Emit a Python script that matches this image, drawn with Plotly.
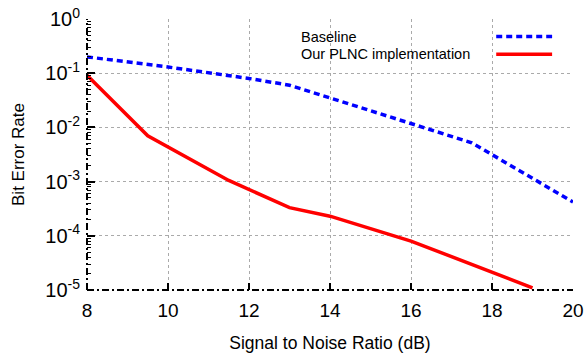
import plotly.graph_objects as go

snr_base = [8, 10, 12, 13, 14, 16, 17.5, 20]
ber_base = [0.2, 0.13, 0.08, 0.06, 0.035, 0.012, 0.0052, 0.00042]
snr_plnc = [8, 9.5, 11.5, 13, 14, 16, 19]
ber_plnc = [0.092, 0.007, 0.00105, 0.00033, 0.00023, 0.00008, 0.000011]
series_names = ["Baseline", "Our PLNC implementation"]
x_ticks = [8, 10, 12, 14, 16, 18, 20]
y_ticks = [1e-5, 1e-4, 1e-3, 1e-2, 1e-1, 1e0]
y_tick_text = ["10<sup>-5</sup>", "10<sup>-4</sup>", "10<sup>-3</sup>",
               "10<sup>-2</sup>", "10<sup>-1</sup>", "10<sup>0</sup>"]

FONT = "Liberation Sans, Arial, sans-serif"
minor_vals = [m * 10.0 ** e for e in range(-5, 0) for m in range(2, 10)]

fig = go.Figure()
fig.add_trace(go.Scatter(x=snr_base, y=ber_base, mode="lines", name=series_names[0],
                         line=dict(color="#0000ff", width=3.5, dash="6px,4px"),
                         showlegend=False))
fig.add_trace(go.Scatter(x=snr_plnc, y=ber_plnc, mode="lines", name=series_names[1],
                         line=dict(color="#ff0000", width=3.5), showlegend=False))

# legend drawn to match reference (text left, sample right)
leg_y = [0.935, 0.87]
for i, (name, col, dash) in enumerate([(series_names[0], "#0000ff", "6px,4px"),
                                       (series_names[1], "#ff0000", "solid")]):
    fig.add_annotation(x=0.437, y=leg_y[i], xref="paper", yref="paper", text=name,
                       showarrow=False, xanchor="left", yanchor="middle",
                       font=dict(family=FONT, size=14.5, color="black"))
    fig.add_shape(type="line", xref="paper", yref="paper", x0=0.842, x1=0.957,
                  y0=leg_y[i], y1=leg_y[i], line=dict(color=col, width=3.5, dash=dash))

# dash-dot axis lines
fig.add_shape(type="line", xref="paper", yref="paper", x0=0, x1=0, y0=0, y1=1,
              line=dict(color="black", width=2, dash="7px,3px,2px,3px"), layer="above")
fig.add_shape(type="line", xref="paper", yref="paper", x0=0, x1=1, y0=0, y1=0,
              line=dict(color="black", width=2, dash="7px,3px,2px,3px"), layer="above")

fig.update_layout(
    width=587, height=353,
    margin=dict(l=87, r=14, t=19, b=63),
    paper_bgcolor="white", plot_bgcolor="white",
    font=dict(family=FONT, size=17, color="black"),
    xaxis=dict(range=[8, 20], tickvals=x_ticks, ticks="inside", ticklen=7,
               tickwidth=1.5, tickcolor="black", showline=False, zeroline=False,
               showgrid=True, gridcolor="#aaaaaa", griddash="dot", gridwidth=1,
               automargin=False, ticklabelstandoff=7,
               title=dict(text="Signal to Noise Ratio (dB)", font=dict(size=17.5), standoff=16),
               tickfont=dict(size=19)),
    yaxis=dict(type="log", range=[-5, 0], tickvals=y_ticks, ticktext=y_tick_text,
               ticks="inside", ticklen=8, tickwidth=1.5, tickcolor="black",
               showline=False, zeroline=False, showgrid=True, gridcolor="#aaaaaa",
               griddash="dot", gridwidth=1, automargin=False, ticklabelstandoff=6,
               minor=dict(tickvals=minor_vals, ticks="inside", ticklen=4,
                          tickcolor="black", tickwidth=1.2, showgrid=False),
               title=dict(text="Bit Error Rate", font=dict(size=17), standoff=16),
               tickfont=dict(size=20)),
)

fig.write_html("out.html", config={"displayModeBar": False},
               post_script="document.body.style.margin='0';document.body.style.padding='0';")
